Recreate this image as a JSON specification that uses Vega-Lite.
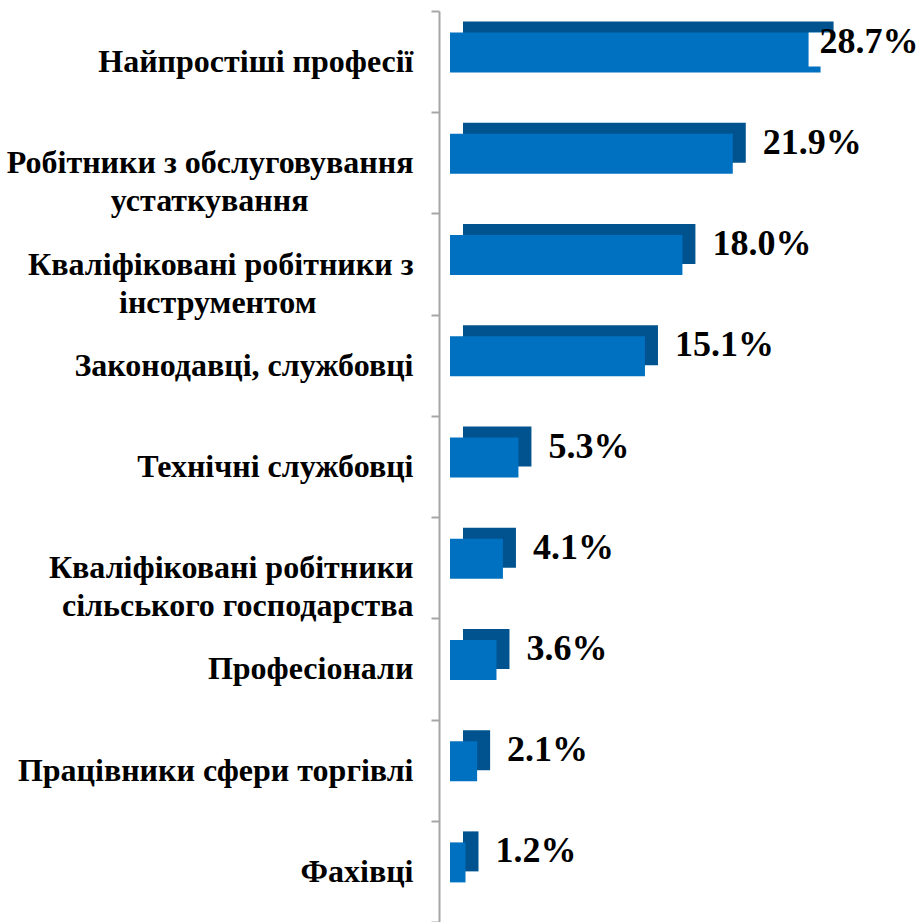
{
  "$schema": "https://vega.github.io/schema/vega-lite/v6.json",
  "width": 470,
  "height": 911,
  "autosize": "none",
  "padding": {"left": 450, "top": 11, "right": 0, "bottom": 0},
  "background": "white",
  "config": {"view": {"stroke": null}},
  "data": {"values": [
    {"category": "Найпростіші професії", "value": 28.7},
    {"category": "Робітники з обслуговування\nустаткування", "value": 21.9},
    {"category": "Кваліфіковані робітники з\nінструментом", "value": 18.0},
    {"category": "Законодавці, службовці", "value": 15.1},
    {"category": "Технічні службовці", "value": 5.3},
    {"category": "Кваліфіковані робітники\nсільського господарства", "value": 4.1},
    {"category": "Професіонали", "value": 3.6},
    {"category": "Працівники сфери торгівлі", "value": 2.1},
    {"category": "Фахівці", "value": 1.2}
  ]},
  "encoding": {
    "y": {
      "field": "category", "type": "nominal", "sort": null,
      "scale": {"paddingInner": 0, "paddingOuter": 0},
      "axis": {
        "title": null, "offset": 11, "grid": false,
        "domainColor": "#A6A6A6", "domainWidth": 2,
        "tickColor": "#A6A6A6", "tickWidth": 2, "tickSize": 8, "tickBand": "extent",
        "labelFont": "Liberation Serif, Times New Roman, DejaVu Serif, serif", "labelFontWeight": "bold", "labelFontSize": 32,
        "labelColor": "black", "labelPadding": 18, "labelLimit": 600, "labelLineHeight": 38,
        "labelExpr": "length(split(datum.label, '\\n')) > 1 ? [split(datum.label, '\\n')[0], (length(split(datum.label, '\\n')[0]) - length(split(datum.label, '\\n')[1]) > 4 ? pad(split(datum.label, '\\n')[1], length(split(datum.label, '\\n')[0]) - 4, '\u00a0') + '\u2800' : split(datum.label, '\\n')[1])] : datum.label"
      }
    },
    "x": {"field": "value", "type": "quantitative", "scale": {"domain": [0, 36.4], "nice": false, "zero": true}, "axis": null}
  },
  "layer": [
    {"mark": {"type": "bar", "color": "#00538F", "size": 40, "xOffset": 13, "x2Offset": 13, "yOffset": -20, "y2Offset": -20}},
    {"mark": {"type": "bar", "color": "#0070C0", "size": 40, "yOffset": -9, "y2Offset": -9}},
    {"transform": [{"filter": "datum.value > 25"}],
     "mark": {"type": "bar", "color": "white", "size": 34, "xOffset": -12, "yOffset": -12, "y2Offset": -12},
     "encoding": {"x2": {"datum": 40}}},
    {"transform": [{"filter": "datum.value <= 25"}],
     "mark": {"type": "text", "align": "left", "baseline": "middle", "dx": 30, "dy": -20,
              "font": "Liberation Serif, Times New Roman, DejaVu Serif, serif", "fontWeight": "bold", "fontSize": 36, "color": "black",
              "text": {"expr": "format(datum.value, '.1f') + '%'"}}},
    {"transform": [{"filter": "datum.value > 25"}],
     "mark": {"type": "text", "align": "left", "baseline": "middle", "dx": -1, "dy": -20,
              "font": "Liberation Serif, Times New Roman, DejaVu Serif, serif", "fontWeight": "bold", "fontSize": 36, "color": "black",
              "text": {"expr": "format(datum.value, '.1f') + '%'"}}}
  ]
}
